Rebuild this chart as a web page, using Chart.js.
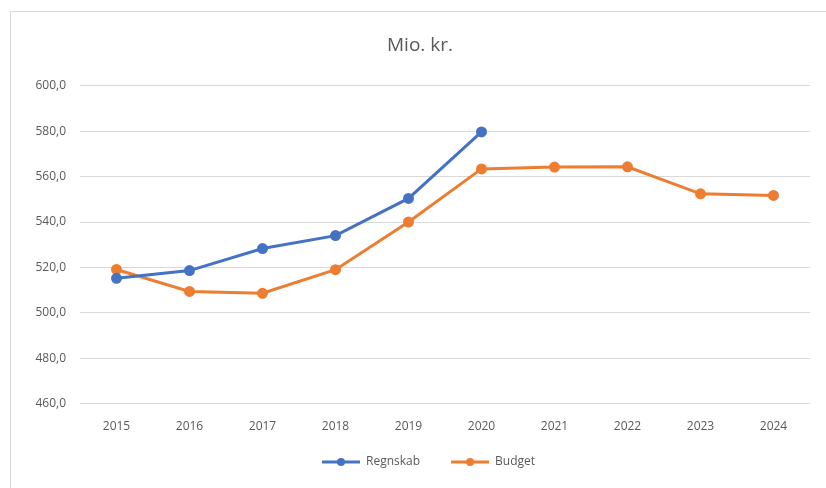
<!DOCTYPE html>
<html>
<head>
<meta charset="utf-8">
<script src="https://cdn.jsdelivr.net/npm/chart.js@4/dist/chart.umd.min.js"></script>
<style>
  html, body { margin: 0; padding: 0; background: #fff; }
  #frame { position: absolute; left: 10px; top: 11px; width: 830px; height: 490px; border: 1px solid #d9d9d9; }
  #wrap { position: absolute; left: 0; top: 0; width: 826px; height: 488px; }
</style>
</head>
<body>
<div id="frame"></div>
<div id="wrap"><canvas id="chart"></canvas></div>
<script>
const years = ["2015", "2016", "2017", "2018", "2019", "2020", "2021", "2022", "2023", "2024"];
const regnskab = [515.2, 518.6, 528.3, 534.0, 550.4, 579.7, null, null, null, null];
const budget = [519.1, 509.4, 508.6, 519.0, 540.0, 563.4, 564.2, 564.3, 552.4, 551.7];
const yTicks = [460, 480, 500, 520, 540, 560, 580, 600];

const blue = "#4472c4";
const orange = "#ed7d31";
const textGray = "#595959";

// little line+dot marker for the legend, like Excel (blank space on the left spreads the items)
const legendMarker = (color) => {
    const c = document.createElement("canvas");
    c.width = 55;
    c.height = 10;
    const g = c.getContext("2d");
    g.strokeStyle = color;
    g.lineWidth = 3;
    g.beginPath();
    g.moveTo(17, 5);
    g.lineTo(55, 5);
    g.stroke();
    g.fillStyle = color;
    g.beginPath();
    g.arc(36, 5, 4, 0, Math.PI * 2);
    g.fill();
    return c;
};

const ctx = document.getElementById("chart").getContext("2d");
new Chart(ctx, {
    type: "line",
    data: {
        labels: years,
        datasets: [
            {
                label: "Regnskab",
                data: regnskab,
                borderColor: blue,
                backgroundColor: blue,
                borderWidth: 3,
                pointRadius: 4,
                pointHoverRadius: 4,
                tension: 0
            },
            {
                label: "Budget",
                data: budget,
                borderColor: orange,
                backgroundColor: orange,
                borderWidth: 3,
                pointRadius: 4,
                pointHoverRadius: 4,
                tension: 0
            }
        ]
    },
    options: {
        responsive: true,
        maintainAspectRatio: false,
        animation: false,
        layout: {
            padding: { left: 30, right: 16, top: 20, bottom: 10 }
        },
        plugins: {
            title: {
                display: true,
                text: "Mio. kr.",
                color: textGray,
                font: { family: "Open Sans", size: 19, weight: "normal" },
                padding: { top: 14, bottom: 29 }
            },
            legend: {
                position: "bottom",
                labels: {
                    color: textGray,
                    font: { family: "Open Sans", size: 12 },
                    usePointStyle: true,
                    pointStyleWidth: 55,
                    padding: 14,
                    generateLabels: (chart) => {
                        const items = Chart.defaults.plugins.legend.labels.generateLabels(chart);
                        items.forEach((it, i) => {
                            it.pointStyle = legendMarker(chart.data.datasets[i].borderColor);
                        });
                        return items;
                    }
                }
            },
            tooltip: { enabled: false }
        },
        scales: {
            x: {
                offset: true,
                grid: { display: false },
                border: { display: false },
                ticks: {
                    color: textGray,
                    font: { family: "Open Sans", size: 12 },
                    padding: 8
                }
            },
            y: {
                min: 460,
                max: 600,
                afterBuildTicks: (axis) => {
                    axis.ticks = yTicks.map(v => ({ value: v }));
                },
                afterFit: (axis) => {
                    axis.width = 50;
                },
                grid: { color: "#d9d9d9", drawTicks: false },
                border: { display: false },
                ticks: {
                    color: textGray,
                    font: { family: "Open Sans", size: 12 },
                    padding: 14,
                    callback: (v) => v.toFixed(1).replace(".", ",")
                }
            }
        }
    }
});
</script>
</body>
</html>
